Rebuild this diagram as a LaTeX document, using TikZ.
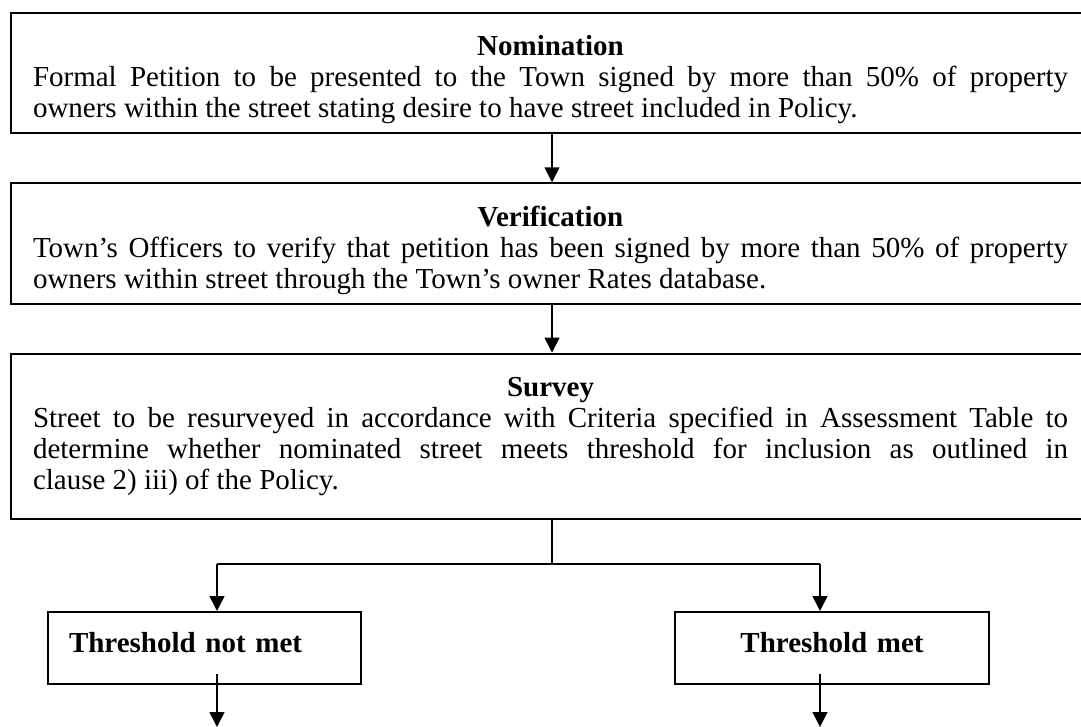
\documentclass[tikz,border=0pt]{standalone}
\usepackage{fontspec}
\setmainfont{Liberation Serif}
\usetikzlibrary{positioning,arrows.meta}
\newcommand\headstrut{\rule{0pt}{17pt}}
\newcommand\tailstrut{\rule[-10pt]{0pt}{10pt}}

\begin{document}
\begin{tikzpicture}[x=0.5pt,y=-0.5pt,
	stagebox/.style={draw,line width=1pt,text width=517.5pt,inner xsep=11pt,inner ysep=4.5pt,
		align=justify,font=\fontsize{14.5pt}{15.5pt}\selectfont},
	outcome/.style={draw,line width=1pt,minimum height=36pt,inner xsep=10.5pt,text depth=6pt,
		font=\fontsize{14.5pt}{15.5pt}\selectfont\bfseries},
	link/.style={line width=0.8pt},
	flow/.style={link,-{Triangle[length=7.5pt,width=7.5pt]}}]

	\useasboundingbox (0,0) rectangle (1081,727);

	% the three stages
	\node[stagebox,anchor=north west] (nom) at (10,12) {{\centering\bfseries\headstrut Nomination\par}
		Formal Petition to be presented to the Town signed by more than 50\% of property\linebreak
		owners within the street stating desire to have street included in Policy.};
	\node[stagebox,below=24pt of nom] (ver) {{\centering\bfseries\headstrut Verification\par}
		Town’s Officers to verify that petition has been signed by more than 50\% of property\linebreak
		owners within street through the Town’s owner Rates database.};
	\node[stagebox,below=24pt of ver] (sur) {{\centering\bfseries\headstrut Survey\par}
		Street to be resurveyed in accordance with Criteria specified in Assessment Table to\linebreak
		determine whether nominated street meets threshold for inclusion as outlined in\linebreak
		clause 2) iii) of the Policy.\tailstrut};

	% outcomes
	\node[outcome,text width=135.5pt,align=left] (notmet) at (204.5,648) {Threshold not met};
	\node[outcome,text width=136pt,align=center] (met) at (832,648) {Threshold met};

	\coordinate (split) at (552,564);
	\coordinate (leftdrop) at (217,564);
	\coordinate (rightdrop) at (820,564);
	\coordinate (leftstart) at (217,674);
	\coordinate (rightstart) at (820,674);
	\coordinate (leftend) at (217,727);
	\coordinate (rightend) at (820,727);

	\draw[flow] (nom.south -| split) -- (ver.north -| split);
	\draw[flow] (ver.south -| split) -- (sur.north -| split);
	\draw[link] (sur.south -| split) -- (split);
	\draw[link] (leftdrop) -- (rightdrop);
	\draw[flow] (leftdrop) -- (leftdrop |- notmet.north);
	\draw[flow] (rightdrop) -- (rightdrop |- met.north);
	\draw[flow] (leftstart) -- (leftend);
	\draw[flow] (rightstart) -- (rightend);

\end{tikzpicture}
\end{document}
